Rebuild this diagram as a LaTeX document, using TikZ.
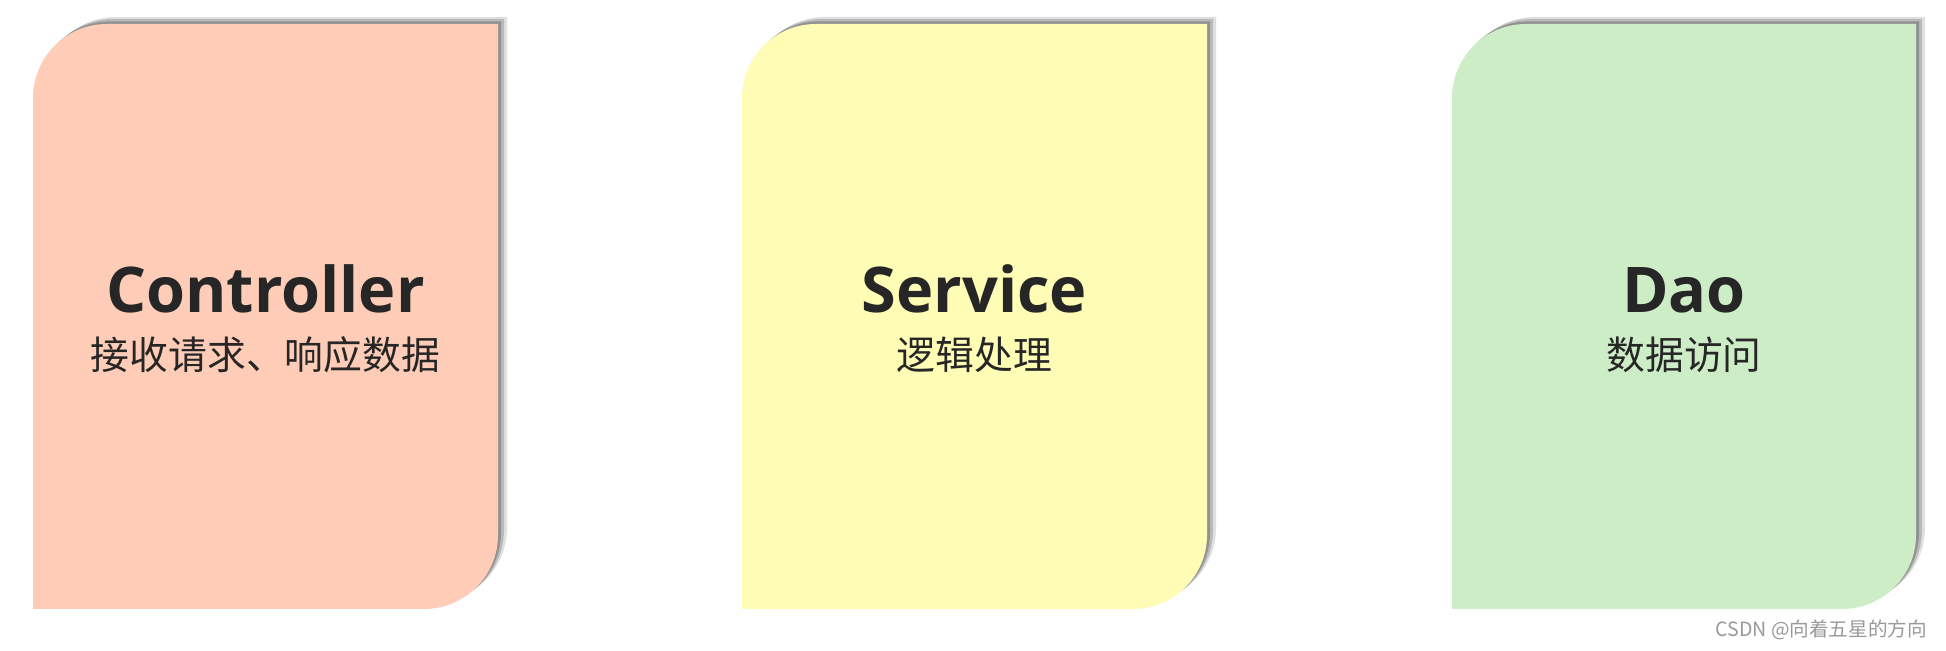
\documentclass[tikz,border=0pt]{standalone}
\usepackage{fontspec}
\setmainfont{Open Sans}
\newfontfamily\cjk{Noto Sans CJK SC}
\usetikzlibrary{positioning}

\definecolor{peach}{RGB}{255,204,183}
\definecolor{lemon}{RGB}{255,253,181}
\definecolor{mint}{RGB}{205,237,198}
\definecolor{ink}{RGB}{38,38,38}

\tikzset{
  card/.style={
    preaction={fill=black, fill opacity=.12, transform canvas={xshift=4.5pt,yshift=3.5pt}},
    preaction={fill=black, fill opacity=.17, transform canvas={xshift=3pt,yshift=2.5pt}},
    preaction={fill=black, fill opacity=.22, transform canvas={xshift=1.5pt,yshift=1.3pt}}},
  title/.style={anchor=base, text=ink, font=\bfseries\fontsize{31.5}{36}\selectfont},
  duty/.style={text=ink, font=\cjk\fontsize{19.4}{23}\selectfont}
}

\begin{document}
\begin{tikzpicture}[x=0.5pt, y=0.5pt]
  \useasboundingbox (0,0) rectangle (1946,651);
  % cards
  \fill [card, fill=peach] (33,42) -- (33,553) arc [start angle=180, end angle=90, radius=74]
    -- (498,627) -- (498,116) arc [start angle=0, end angle=-90, radius=74] -- cycle;
  \fill [card, fill=lemon] (742,42) -- (742,553) arc [start angle=180, end angle=90, radius=74]
    -- (1207,627) -- (1207,116) arc [start angle=0, end angle=-90, radius=74] -- cycle;
  \fill [card, fill=mint] (1452,42) -- (1452,553) arc [start angle=180, end angle=90, radius=74]
    -- (1916,627) -- (1916,116) arc [start angle=0, end angle=-90, radius=74] -- cycle;
  % texts
  \node [title] (ctrl) at (265.5,338) {Controller};
  \node [duty] (ctrlnote) at (265.5,296) {接收请求、响应数据};
  \node [title] (serv) at (974.5,338) {Service};
  \node [duty] (servnote) at (974.5,296) {逻辑处理};
  \node [title] (dao) at (1684,338) {Dao};
  \node [duty] (daonote) at (1684,296) {数据访问};
  \node [anchor=base east, text=black!40, font=\cjk\fontsize{9.8}{11}\selectfont] (mark) at (1934,14) {CSDN @向着五星的方向};
\end{tikzpicture}
\end{document}
